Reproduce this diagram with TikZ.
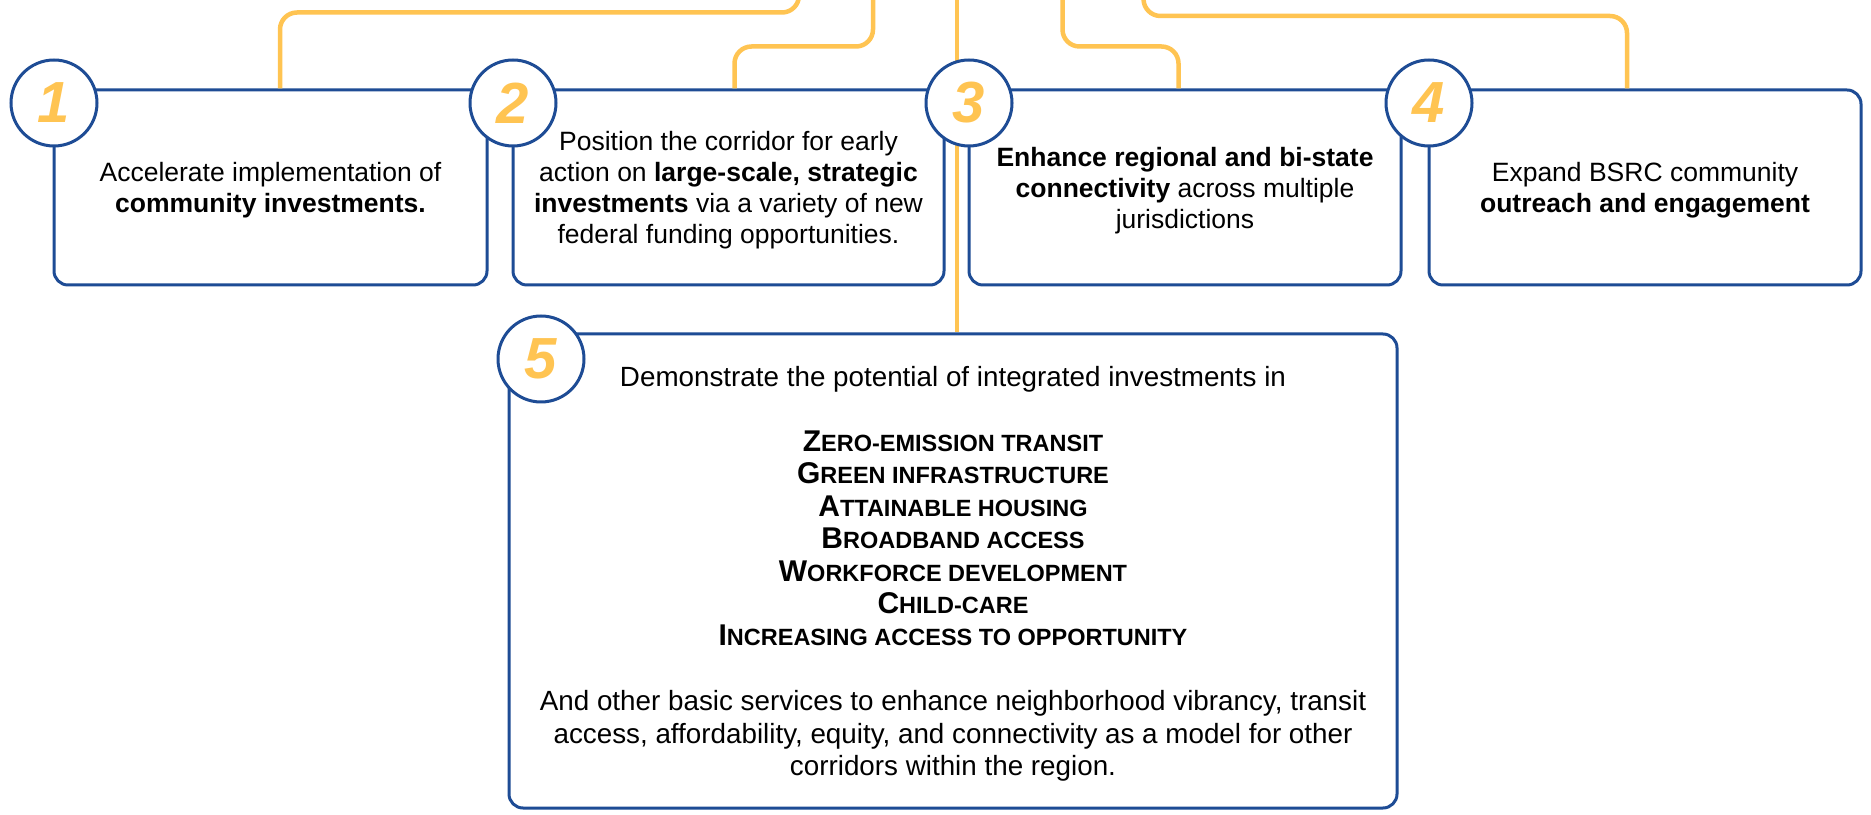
\documentclass[tikz,border=0pt]{standalone}
\usepackage{fontspec}
\setmainfont{Liberation Sans}
\newcommand{\capline}[2]{{\bfseries{\fontsize{30}{32.4}\selectfont #1}{\fontsize{23.5}{32.4}\selectfont #2}}}
\begin{document}
\begin{tikzpicture}[x=1pt,y=1pt,
  box/.style={draw=frameColor,line width=3pt,rounded corners=14pt,fill=white,inner sep=0pt,align=center,text depth=-3pt,font=\fontsize{26.5}{31}\selectfont},
  badge/.style={circle,draw=frameColor,line width=3pt,fill=white,minimum size=86pt,inner sep=0pt,text=numColor,font=\fontsize{58}{58}\selectfont\bfseries\itshape},
  feed/.style={draw=numColor,line width=4.5pt,rounded corners=17pt}]
\definecolor{fillColor}{RGB}{255,255,255}
\definecolor{frameColor}{RGB}{30,76,149}
\definecolor{numColor}{RGB}{255,196,82}
\path[use as bounding box,fill=fillColor] (0,0) rectangle (1871,814);

% boxes
\node[box,minimum width=433pt,minimum height=195pt] (b1) at ( 270.5,626.5) {Accelerate implementation of\\\textbf{community investments.}};
\node[box,minimum width=431pt,minimum height=195pt] (b2) at ( 728.5,626.5) {Position the corridor for early\\action on \textbf{large-scale, strategic}\\\textbf{investments} via a variety of new\\federal funding opportunities.};
\node[box,minimum width=432pt,minimum height=195pt] (b3) at (1185.0,626.5) {\textbf{Enhance regional and bi-state}\\\textbf{connectivity} across multiple\\jurisdictions};
\node[box,minimum width=432pt,minimum height=195pt] (b4) at (1645.0,626.5) {Expand BSRC community\\\textbf{outreach and engagement}};
\node[box,minimum width=888pt,minimum height=474pt,font=\fontsize{27.8}{32.4}\selectfont] (b5) at ( 953.0,243.0) {Demonstrate the potential of integrated investments in\\[32.4pt]
  \capline{Z}{ERO-EMISSION TRANSIT}\\
  \capline{G}{REEN INFRASTRUCTURE}\\
  \capline{A}{TTAINABLE HOUSING}\\
  \capline{B}{ROADBAND ACCESS}\\
  \capline{W}{ORKFORCE DEVELOPMENT}\\
  \capline{C}{HILD-CARE}\\
  \capline{I}{NCREASING ACCESS TO OPPORTUNITY}\\[32.4pt]
  And other basic services to enhance neighborhood vibrancy, transit\\
  access, affordability, equity, and connectivity as a model for other\\
  corridors within the region.};

% feeder lines
\coordinate (feedA) at ( 799.0,814.0);
\coordinate (feedB) at ( 873.0,814.0);
\coordinate (feedC) at ( 957.0,814.0);
\coordinate (feedD) at (1062.5,814.0);
\coordinate (feedE) at (1143.5,814.0);
\coordinate (dropA) at ( 280.0,801.5);
\coordinate (dropB) at ( 734.5,767.5);
\coordinate (dropD) at (1178.5,767.5);
\coordinate (dropE) at (1627.0,798.0);

\path[feed] (feedA) |- (dropA) -- (dropA |- b1.north);
\path[feed] (feedB) |- (dropB) -- (dropB |- b2.north);
\path[feed] (feedC) -- (feedC |- b5.north);
\path[feed] (feedD) |- (dropD) -- (dropD |- b3.north);
\path[feed] (feedE) |- (dropE) -- (dropE |- b4.north);

% numbers
\node[badge] (n1) at (  54.0,711.0) {1};
\node[badge] (n2) at ( 513.0,711.0) {2};
\node[badge] (n3) at ( 969.0,711.0) {3};
\node[badge] (n4) at (1429.0,711.0) {4};
\node[badge] (n5) at ( 541.0,455.0) {5};
\end{tikzpicture}
\end{document}
